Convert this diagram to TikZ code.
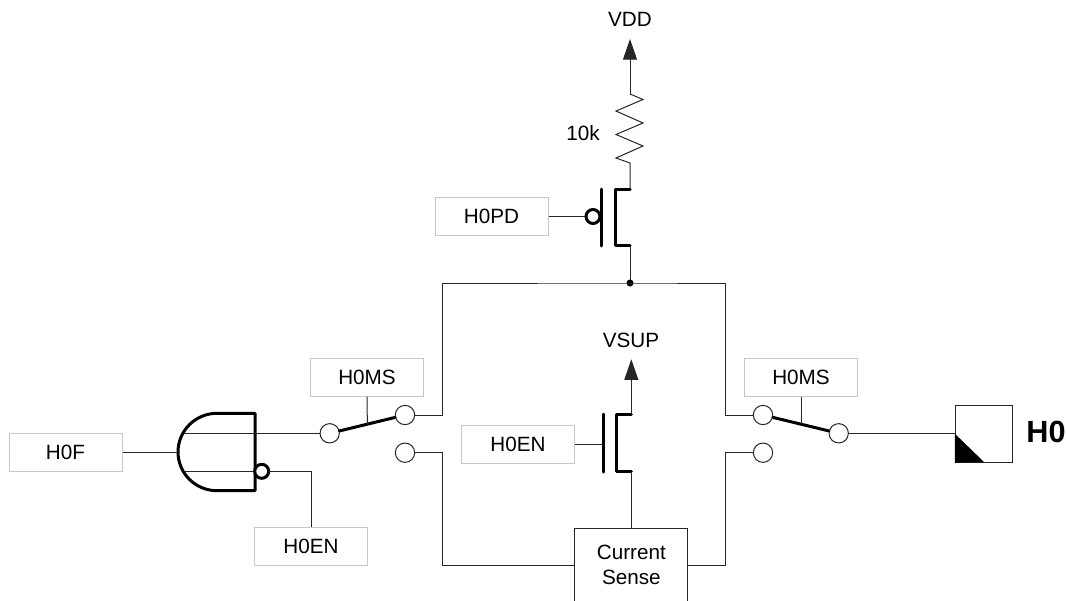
\documentclass[tikz,border=0pt]{standalone}
\usepackage{fontspec}
\setmainfont{Liberation Sans}
\usetikzlibrary{arrows.meta}
\tikzset{
	wire/.style={line width=0.75pt, draw=black!85},
	heavy/.style={line width=2.25pt, line cap=round, line join=round},
	regbox/.style={draw=black!22, line width=0.75pt, fill=white, minimum width=84.75pt, minimum height=28.5pt, inner sep=0pt, font=\fontsize{15.5}{18}\selectfont},
	pad/.style={circle, draw=black!85, line width=0.75pt, fill=white, minimum size=14.5pt, inner sep=0pt},
	bubble/.style={circle, draw=black, line width=2.25pt, fill=white, minimum size=10.5pt, inner sep=0pt},
	lbl/.style={inner sep=0pt, font=\fontsize{15.5}{18}\selectfont},
	rail/.style={wire, -{Triangle[length=15.5pt,width=10.5pt]}}
}
\begin{document}
\begin{tikzpicture}[x=0.75pt, y=-0.75pt]
			%%%%% START %%%%%
			\useasboundingbox (0, 0) rectangle (1066, 600);
			
			\node[lbl] (vddlbl) at (630, 19) {VDD};
			\node[lbl] (reslbl) at (583, 133) {10k};
			\node[lbl] (vsuplbl) at (631, 340) {VSUP};
			\node[inner sep=0pt, font=\fontsize{23}{27}\bfseries\selectfont] (padlbl) at (1046, 432) {H0};
			
			\node[regbox] (pdbox) at (491.5, 216.5) {H0PD};
			\node[regbox] (fbox) at (65.5, 452.3) {H0F};
			\node[regbox] (msleft) at (367, 377) {H0MS};
			\node[regbox] (msright) at (801, 377) {H0MS};
			\node[regbox] (enleft) at (311, 546.3) {H0EN};
			\node[regbox] (enmid) at (518, 444.6) {H0EN};
			
			%%%%% pull-down and resistor
			\coordinate (vddtip) at (630, 39);
			\coordinate (restop) at (630, 94);
			\coordinate (resbot) at (630, 163);
			\coordinate (pdtop) at (630, 189);
			\coordinate (pdbot) at (630, 245);
			\coordinate (junction) at (630, 283);
			\draw[rail] (restop) -- (vddtip);
			\draw[wire] (restop) -- (643, 99.5) -- (616, 111) -- (643, 123) -- (616, 134.5) -- (643, 146) -- (616, 158) -- (resbot) -- (pdtop);
			\draw[heavy] (pdtop) -- (615, 189) -- (615, 245) -- (pdbot);
			\draw[heavy] (601, 189) -- (601, 246);
			\node[bubble] (pdgate) at (593, 216.5) {};
			\draw[wire] (pdbox) -- (pdgate);
			\draw[wire] (pdbot) -- (junction);
			\fill (junction) circle (3.5);
			
			%%%%% contacts
			\node[pad] (swa) at (329.7, 433.3) {};
			\node[pad] (swb) at (405, 415) {};
			\node[pad] (swc) at (405, 452.7) {};
			\node[pad] (swd) at (763, 415) {};
			\node[pad] (swe) at (763, 452.7) {};
			\node[pad] (swf) at (838.7, 433.3) {};
			\draw[heavy] (swa) -- (swb);
			\draw[heavy] (swd) -- (swf);
			\draw[wire] (msleft) -- (367.3, 424);
			\draw[wire] (msright) -- (801, 424);
			
			%%%%% bus
			\draw[wire] (swb) -| (442.7, 283) -- (junction) -- (725.7, 283) |- (swd);
			
			%%%%% current sense
			\node[draw=black!85, line width=0.75pt, fill=white, minimum width=85pt, minimum height=55.5pt, anchor=north, inner sep=0pt, align=center, font=\fontsize{15.5}{19}\selectfont] (sense) at (631.3, 527.7) {Current\\Sense};
			\draw[wire] (swc) -| (442.7, 565) -- (sense.west |- 0, 565);
			\draw[wire] (swe) -| (725.7, 565) -- (sense.east |- 0, 565);
			
			%%%%% enable transistor
			\coordinate (entop) at (631.3, 414);
			\coordinate (enbot) at (631.3, 471.7);
			\draw[rail] (entop) -- (631.3, 359.3);
			\draw[heavy] (entop) -- (616.7, 414) -- (616.7, 471.7) -- (enbot);
			\draw[heavy] (603.3, 414) -- (603.3, 472);
			\draw[wire] (enmid) -- (603.3, 444.6);
			\draw[wire] (enbot) -- (sense);
			
			%%%%% gate
			\draw[heavy] (217, 413.3) -- (255, 413.3) -- (255, 490.7) -- (217, 490.7) arc (90:270:39 and 38.7) -- cycle;
			\draw[wire] (fbox) -- (178, 452.3);
			\draw[wire] (184, 433.3) -- (swa);
			\draw[wire] (184, 471.3) -- (255, 471.3);
			\node[bubble] (invbub) at (261.7, 471.3) {};
			\draw[wire] (invbub) -| (enleft);
			
			%%%%% pin
			\node[draw=black!85, line width=0.75pt, minimum size=42.75pt, inner sep=0pt] (pin) at (983.8, 433.7) {};
			\draw[wire] (swf) -- (pin.west |- swf);
			\fill (pin.west) -- (pin.south west) -- (984, 462) -- cycle;
			
			%%%%% END %%%%%
		\end{tikzpicture}
\end{document}
